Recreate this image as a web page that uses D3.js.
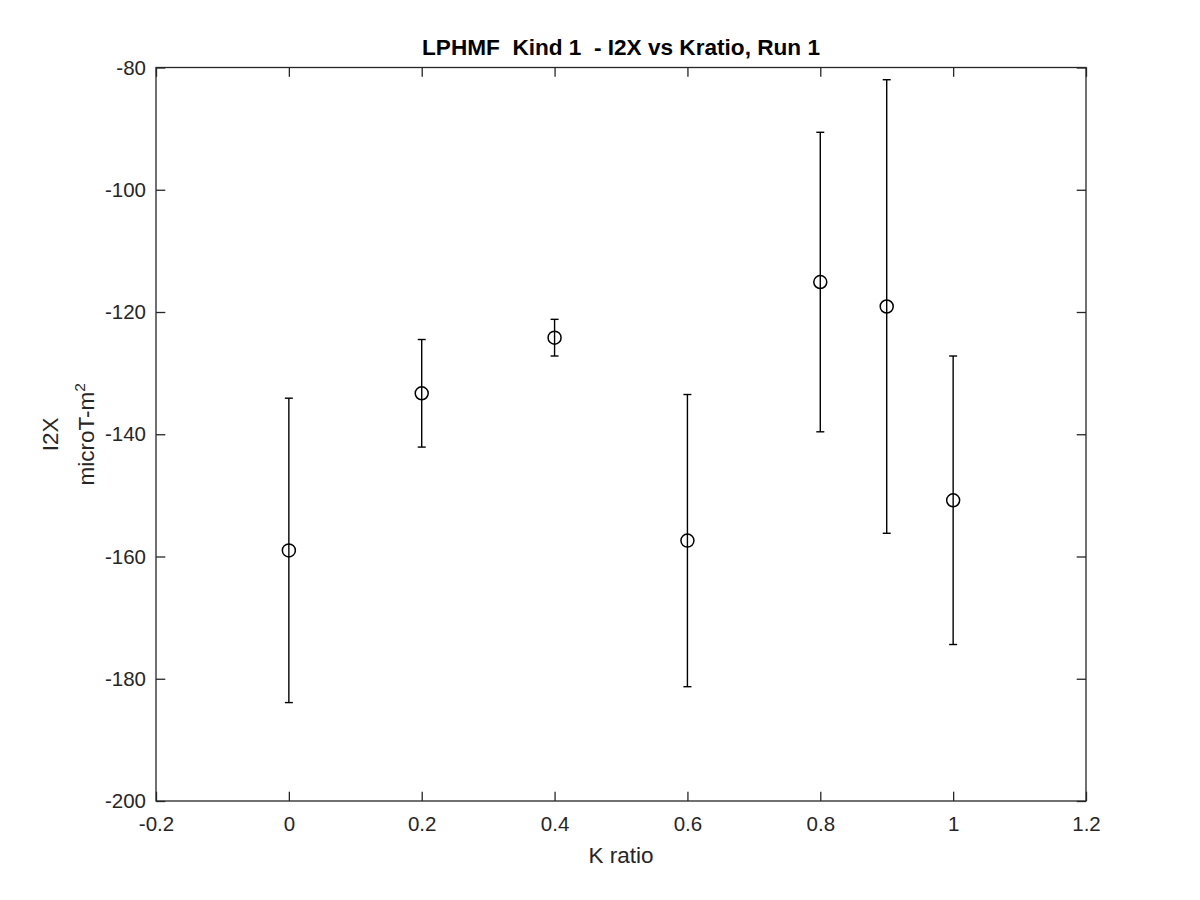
<!DOCTYPE html>
<html>
<head>
<meta charset="utf-8">
<script src="https://cdn.jsdelivr.net/npm/d3@7"></script>
<style>
  body { margin: 0; background: #fff; }
  svg { display: block; font-family: 'Liberation Sans', Arial, sans-serif; }
</style>
</head>
<body>
<svg id="chart" width="1200" height="900"></svg>
<script>
// K ratio values and measured I2X means with symmetric error half-widths
const kRatio = [0, 0.2, 0.4, 0.6, 0.8, 0.9, 1.0];
const i2xMean = [-159.0, -133.3, -124.2, -157.4, -115.1, -119.1, -150.8];
const i2xErr = [24.9, 8.8, 3.0, 23.9, 24.5, 37.1, 23.6];

const xTicks = [-0.2, 0, 0.2, 0.4, 0.6, 0.8, 1, 1.2];
const yTicks = [-200, -180, -160, -140, -120, -100, -80];

const margin = { left: 156, top: 67.5, right: 114, bottom: 99 };
const width = 1200 - margin.left - margin.right;
const height = 900 - margin.top - margin.bottom;
const axisColor = '#262626';
const tickLen = 9.3;

const svg = d3.select('#chart');
const chart = svg.append('g')
  .attr('transform', `translate(${margin.left}, ${margin.top})`);

const xScale = d3.scaleLinear().domain([-0.2, 1.2]).range([0, width]);
const yScale = d3.scaleLinear().domain([-200, -80]).range([height, 0]);

const fmt = (d) => String(d);

const styleAxis = (g) => {
  g.select('.domain').remove();
  g.selectAll('line').attr('stroke', axisColor).attr('stroke-width', 1.3);
  g.selectAll('text').attr('fill', axisColor).style('font-size', '20.5px');
};

chart.append('g')
  .attr('transform', `translate(0, ${height})`)
  .call(d3.axisBottom(xScale).tickValues(xTicks).tickFormat(fmt)
    .tickSizeInner(-tickLen).tickSizeOuter(0).tickPadding(15))
  .call(styleAxis);

chart.append('g')
  .call(d3.axisTop(xScale).tickValues(xTicks).tickFormat('')
    .tickSizeInner(-tickLen).tickSizeOuter(0))
  .call(styleAxis);

chart.append('g')
  .call(d3.axisLeft(yScale).tickValues(yTicks).tickFormat(fmt)
    .tickSizeInner(-tickLen).tickSizeOuter(0).tickPadding(10))
  .call(styleAxis);

chart.append('g')
  .attr('transform', `translate(${width}, 0)`)
  .call(d3.axisRight(yScale).tickValues(yTicks).tickFormat('')
    .tickSizeInner(-tickLen).tickSizeOuter(0))
  .call(styleAxis);

// box
chart.append('rect')
  .attr('x', 0).attr('y', 0)
  .attr('width', width).attr('height', height)
  .attr('fill', 'none')
  .attr('stroke', axisColor)
  .attr('stroke-width', 1.3);

// error bars
const points = kRatio.map((k, i) => ({ k, m: i2xMean[i], e: i2xErr[i] }));
const capHalf = 4;

const bars = chart.append('g').attr('stroke', '#000').attr('stroke-width', 1.4);
bars.selectAll('line.stem')
  .data(points)
  .enter()
  .append('line')
  .attr('class', 'stem')
  .attr('x1', (d) => xScale(d.k))
  .attr('x2', (d) => xScale(d.k))
  .attr('y1', (d) => yScale(d.m + d.e))
  .attr('y2', (d) => yScale(d.m - d.e));

bars.selectAll('line.capTop')
  .data(points)
  .enter()
  .append('line')
  .attr('class', 'capTop')
  .attr('x1', (d) => xScale(d.k) - capHalf)
  .attr('x2', (d) => xScale(d.k) + capHalf)
  .attr('y1', (d) => yScale(d.m + d.e))
  .attr('y2', (d) => yScale(d.m + d.e));

bars.selectAll('line.capBottom')
  .data(points)
  .enter()
  .append('line')
  .attr('class', 'capBottom')
  .attr('x1', (d) => xScale(d.k) - capHalf)
  .attr('x2', (d) => xScale(d.k) + capHalf)
  .attr('y1', (d) => yScale(d.m - d.e))
  .attr('y2', (d) => yScale(d.m - d.e));

chart.selectAll('circle')
  .data(points)
  .enter()
  .append('circle')
  .attr('cx', (d) => xScale(d.k))
  .attr('cy', (d) => yScale(d.m))
  .attr('r', 6.5)
  .attr('fill', 'none')
  .attr('stroke', '#000')
  .attr('stroke-width', 1.5);

// title
svg.append('text')
  .attr('x', margin.left + width / 2)
  .attr('y', 55)
  .attr('text-anchor', 'middle')
  .style('font-size', '22.6px')
  .style('font-weight', 'bold')
  .style('white-space', 'pre')
  .attr('fill', '#000')
  .text('LPHMF  Kind 1  - I2X vs Kratio, Run 1');

// x label
svg.append('text')
  .attr('x', margin.left + width / 2)
  .attr('y', 863)
  .attr('text-anchor', 'middle')
  .style('font-size', '22.5px')
  .attr('fill', axisColor)
  .text('K ratio');

// y label (two lines, rotated)
const yMid = margin.top + height / 2;
const yLabel = svg.append('g')
  .attr('transform', `translate(0, ${yMid}) rotate(-90)`)
  .attr('fill', axisColor)
  .style('font-size', '22.5px');

yLabel.append('text')
  .attr('x', 0)
  .attr('y', 58)
  .attr('text-anchor', 'middle')
  .text('I2X');

const line2 = yLabel.append('text')
  .attr('x', 0)
  .attr('y', 94)
  .attr('text-anchor', 'middle');
line2.append('tspan').text('microT-m');
line2.append('tspan')
  .attr('dy', -9)
  .style('font-size', '15.5px')
  .text('2');
</script>
</body>
</html>
